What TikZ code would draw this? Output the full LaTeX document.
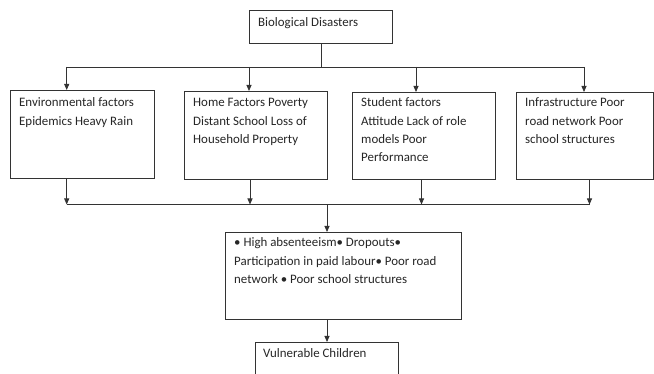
\documentclass[tikz,border=0pt]{standalone}
\usepackage{fontspec}
\setmainfont{Carlito}
\usetikzlibrary{arrows.meta}
\tikzset{
  boxnode/.style={draw=black!80, line width=0.8pt, rectangle, inner sep=0pt, anchor=north west},
  txt/.style={anchor=base west, inner sep=0pt, text=black!85, font=\fontsize{12.9}{18.2}\selectfont},
  conn/.style={draw=black!80, line width=0.8pt},
  arr/.style={conn, -{Triangle[length=6pt,width=5pt]}},
}
\begin{document}
\begin{tikzpicture}[x=1pt,y=-1pt]
\clip (0,0) rectangle (654,374);
\fill[white] (0,0) rectangle (654,374);
% boxes
\node[boxnode, minimum width=143pt, minimum height=33pt] (top) at (249,10) {};
\node[boxnode, minimum width=144pt, minimum height=88pt] (env) at (10,90) {};
\node[boxnode, minimum width=143pt, minimum height=88pt] (home) at (184,91) {};
\node[boxnode, minimum width=143pt, minimum height=87pt] (stud) at (352,92) {};
\node[boxnode, minimum width=137pt, minimum height=87pt] (infra) at (516,92) {};
\node[boxnode, minimum width=236pt, minimum height=87pt] (mid) at (225,232) {};
\node[boxnode, minimum width=143pt, minimum height=50pt] (vuln) at (255,342) {};
% texts
\node[txt] (ttop) at (258,27) {\parbox[t]{130pt}{Biological Disasters}};
\node[txt] (tenv) at (19,107) {\parbox[t]{135pt}{Environmental factors\\Epidemics Heavy Rain}};
\node[txt] (thome) at (193,107) {\parbox[t]{135pt}{Home Factors Poverty\\Distant School Loss of\\Household Property}};
\node[txt] (tstud) at (361,107) {\parbox[t]{135pt}{Student factors\\Attitude Lack of role\\models Poor\\Performance}};
\node[txt] (tinfra) at (525,107) {\parbox[t]{128pt}{Infrastructure Poor\\road network Poor\\school structures}};
\node[txt] (tmid) at (234,247) {\parbox[t]{225pt}{• High absenteeism• Dropouts•\\Participation in paid labour• Poor road\\network • Poor school structures}};
\node[txt] (tvuln) at (263,358) {\parbox[t]{130pt}{Vulnerable Children}};
% bus coordinates
\coordinate (busT) at (top.south |- 0,67);
\coordinate (t1) at (66.7,67);
\coordinate (t2) at (249,67);
\coordinate (t3) at (416,67);
\coordinate (t4) at (584,67);
\coordinate (b1) at (66.7,204.5);
\coordinate (b2) at (250,204.5);
\coordinate (b3) at (421.5,204.5);
\coordinate (b4) at (589.5,204.5);
\coordinate (bm) at (327,204.5);
% top connectors
\draw[conn] (top.south) -- (busT);
\draw[conn] (t1) -- (t4);
\draw[arr] (t1) -- (t1 |- env.north);
\draw[arr] (t2) -- (t2 |- home.north);
\draw[arr] (t3) -- (t3 |- stud.north);
\draw[arr] (t4) -- (t4 |- infra.north);
% bottom connectors
\draw[arr] (b1 |- env.south) -- (b1);
\draw[arr] (b2 |- home.south) -- (b2);
\draw[arr] (b3 |- stud.south) -- (b3);
\draw[arr] (b4 |- infra.south) -- (b4);
\draw[conn] (b1) -- (b4);
\draw[arr] (bm) -- (bm |- mid.north);
\draw[arr] (bm |- mid.south) -- (bm |- vuln.north);
\end{tikzpicture}
\end{document}
